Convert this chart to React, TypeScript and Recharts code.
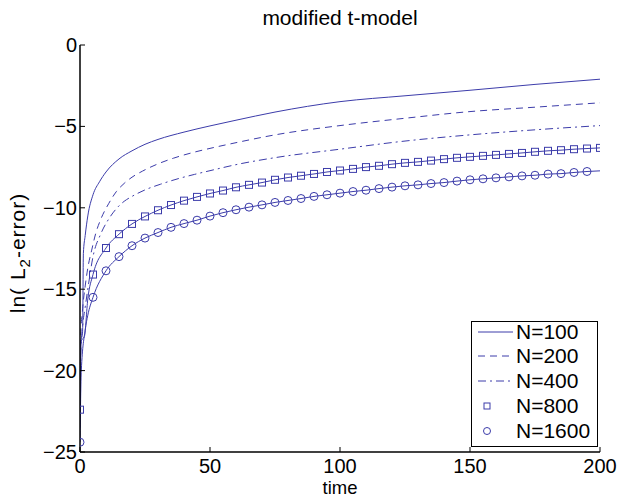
import React from "react";
import { ComposedChart, Line, XAxis, YAxis } from "recharts";

// tick labels
const xTicks = [0, 50, 100, 150, 200];
const yTicks = [0, -5, -10, -15, -20, -25];

// N=100 (solid)
const n100Time = [0, 0.3, 1, 1.3, 2, 3, 5, 7.5, 10, 15, 20, 25, 30, 40, 50, 60, 75, 100, 125, 150, 175, 200];
const n100Err = [-22, -18.3, -17.6, -12.8, -11.7, -10.5, -9.2, -8.4, -7.8, -7.0, -6.5, -6.1, -5.8, -5.35, -4.97, -4.62, -4.12, -3.48, -3.12, -2.78, -2.42, -2.1];

// N=200 (dashed)
const n200Time = [0, 0.3, 1, 2, 3, 4.5, 6, 8, 11, 14, 17, 20, 24, 30, 36, 44, 50, 60, 75, 100, 125, 150, 175, 200];
const n200Err = [-23, -17.8, -16.2, -14.8, -13.7, -12.6, -11.6, -10.7, -9.75, -9.0, -8.5, -8.12, -7.75, -7.3, -6.95, -6.58, -6.35, -6.0, -5.52, -4.95, -4.5, -4.09, -3.82, -3.55];

// N=400 (dash-dot)
const n400Time = [0, 0.3, 1, 2, 3, 5, 8, 11, 14, 17, 20, 25, 31, 38, 44, 50, 60, 75, 100, 125, 150, 175, 200];
const n400Err = [-23.5, -19, -17.3, -16.1, -15.0, -13.0, -11.6, -10.7, -10.05, -9.6, -9.3, -8.9, -8.55, -8.2, -7.95, -7.72, -7.35, -6.92, -6.4, -5.9, -5.52, -5.21, -4.95];

// N=800 (squares)
const n800Time = [0, 0.4, 1.7, 3, 5, 10, 15, 20, 25, 30, 35, 40, 45, 50, 55, 60, 65, 70, 75, 80, 85, 90, 95, 100,
  105, 110, 115, 120, 125, 130, 135, 140, 145, 150, 155, 160, 165, 170, 175, 180, 185, 190, 195, 200];
const n800Err = [-22.4, -18.2, -17.9, -15.6, -14.1, -12.47, -11.62, -10.99, -10.53, -10.15, -9.83, -9.56, -9.33, -9.12,
  -8.94, -8.74, -8.59, -8.45, -8.28, -8.14, -8.03, -7.92, -7.8, -7.71, -7.61, -7.5, -7.42, -7.32, -7.24, -7.18, -7.1,
  -7.01, -6.93, -6.87, -6.81, -6.75, -6.69, -6.63, -6.56, -6.5, -6.46, -6.4, -6.36, -6.32];

// N=1600 (circles)
const n1600Time = [0, 0.5, 2, 3, 5, 10, 15, 20, 25, 30, 35, 40, 45, 50, 55, 60, 65, 70, 75, 80, 85, 90, 95, 100,
  105, 110, 115, 120, 125, 130, 135, 140, 145, 150, 155, 160, 165, 170, 175, 180, 185, 190, 195, 200];
const n1600Err = [-24.4, -20, -17.5, -16.6, -15.5, -13.87, -13.0, -12.33, -11.86, -11.52, -11.2, -10.97, -10.76, -10.51,
  -10.3, -10.12, -9.96, -9.82, -9.67, -9.55, -9.43, -9.3, -9.2, -9.1, -9.0, -8.92, -8.82, -8.73, -8.65, -8.59, -8.51,
  -8.45, -8.36, -8.28, -8.22, -8.16, -8.1, -8.04, -8.0, -7.93, -7.9, -7.83, -7.77, -7.73];

const legendNames = ["N=100", "N=200", "N=400", "N=800", "N=1600"];

const INK = "#3c3caa";
const FONT = "'Liberation Sans', Arial, Helvetica, sans-serif";
const FS = 20;
const DASH = "7 5";
const DASHDOT = "8 4 2 4";

const toRows = (t: number[], v: number[]) => t.map((x, i) => ({ t: x, v: v[i] }));
const fmt = (n: number) => (n < 0 ? `\u2212${-n}` : `${n}`);

const BottomTick = ({ x, y, payload }: any) => (
  <g>
    <line x1={x} y1={y} x2={x} y2={y - 5} stroke="#000" />
    <text x={x} y={y + 20.5} textAnchor="middle" fontSize={FS} fontFamily={FONT} fill="#000">
      {payload.value}
    </text>
  </g>
);
const TopTick = ({ x, y }: any) => <line x1={x} y1={y} x2={x} y2={y + 5} stroke="#000" />;
const LeftTick = ({ x, y, payload }: any) => (
  <g>
    <line x1={x} y1={y} x2={x + 5} y2={y} stroke="#000" />
    <text x={x - 3} y={y + 7} textAnchor="end" fontSize={FS} fontFamily={FONT} fill="#000">
      {fmt(payload.value)}
    </text>
  </g>
);
const RightTick = ({ x, y }: any) => <line x1={x} y1={y} x2={x - 5} y2={y} stroke="#000" />;

const squareDot = (p: any) => {
  const { cx, cy, payload, index } = p;
  if (payload.t % 5 !== 0) return <g key={`s${index}`} />;
  return <rect key={`s${index}`} x={cx - 3.5} y={cy - 3.5} width={7} height={7} fill="none" stroke={INK} />;
};
const circleDot = (p: any) => {
  const { cx, cy, payload, index } = p;
  if (payload.t % 5 !== 0 || payload.t > 195) return <g key={`c${index}`} />;
  return <circle key={`c${index}`} cx={cx} cy={cy} r={4} fill="none" stroke={INK} />;
};

function LegendBox() {
  const rowY = [11, 35, 60, 85, 110];
  return (
    <svg width={127} height={126} style={{ position: "absolute", left: 471, top: 321 }}>
      <rect x={0.5} y={0.5} width={126} height={125} fill="#fff" stroke="#000" />
      {legendNames.map((name, i) => {
        const y = rowY[i];
        return (
          <g key={name}>
            {i < 3 && (
              <line x1={7} y1={y} x2={42} y2={y} stroke={INK} strokeDasharray={i === 1 ? DASH : i === 2 ? DASHDOT : undefined} />
            )}
            {i === 3 && <rect x={13} y={y - 3} width={6} height={6} fill="none" stroke={INK} />}
            {i === 4 && <circle cx={16} cy={y} r={3.5} fill="none" stroke={INK} />}
            <text x={45} y={y + 7} fontSize={FS + 1} fontFamily={FONT} fill="#000">
              {name}
            </text>
          </g>
        );
      })}
    </svg>
  );
}

export default function App() {
  return (
    <div style={{ position: "absolute", left: 0, top: 0, width: 623, height: 497, background: "#fff", fontFamily: FONT }}>
      <div style={{ position: "absolute", left: 0, width: 680, top: 6, textAlign: "center", fontSize: 21, lineHeight: "24px" }}>
        modified t-model
      </div>
      <div
        style={{
          position: "absolute",
          left: 18,
          top: 253,
          transform: "translate(-50%, -50%) rotate(-90deg)",
          whiteSpace: "nowrap",
          fontSize: 21,
          letterSpacing: "1px",
          lineHeight: "22px",
        }}
      >
        ln( L<sub style={{ fontSize: 15, verticalAlign: "-5px", lineHeight: 0 }}>2</sub>-error)
      </div>
      <svg width={623} height={27} style={{ position: "absolute", left: 0, top: 470 }}>
        <text x={340} y={23.5} textAnchor="middle" fontSize={18.5} fontFamily={FONT} fill="#000">
          time
        </text>
      </svg>
      <ComposedChart width={623} height={497} margin={{ top: 45, right: 23, bottom: 0, left: 0 }}>
        <XAxis
          dataKey="t"
          type="number"
          domain={[0, 200]}
          ticks={xTicks}
          interval={0}
          height={45}
          tickSize={0}
          tickMargin={0}
          tickLine={false}
          tick={<BottomTick />}
          axisLine={{ stroke: "#000", strokeWidth: 1.5 }}
          allowDataOverflow
        />
        <XAxis
          xAxisId="top"
          orientation="top"
          dataKey="t"
          type="number"
          domain={[0, 200]}
          ticks={xTicks}
          interval={0}
          height={0}
          tickSize={0}
          tickMargin={0}
          tickLine={false}
          tick={<TopTick />}
          axisLine={{ stroke: "#000", strokeWidth: 1.5 }}
          allowDataOverflow
        />
        <YAxis
          type="number"
          domain={[-25, 0]}
          ticks={yTicks}
          interval={0}
          width={80}
          tickSize={0}
          tickMargin={0}
          tickLine={false}
          tick={<LeftTick />}
          axisLine={{ stroke: "#000", strokeWidth: 1.5 }}
          allowDataOverflow
        />
        <YAxis
          yAxisId="right"
          orientation="right"
          type="number"
          domain={[-25, 0]}
          ticks={yTicks}
          interval={0}
          width={0}
          tickSize={0}
          tickMargin={0}
          tickLine={false}
          tick={<RightTick />}
          axisLine={{ stroke: "#000", strokeWidth: 1.5 }}
          allowDataOverflow
        />
        <Line data={toRows(n100Time, n100Err)} dataKey="v" type="monotone" stroke={INK} strokeWidth={1} dot={false} isAnimationActive={false} />
        <Line data={toRows(n200Time, n200Err)} dataKey="v" type="monotone" stroke={INK} strokeWidth={1} strokeDasharray={DASH} dot={false} isAnimationActive={false} />
        <Line data={toRows(n400Time, n400Err)} dataKey="v" type="monotone" stroke={INK} strokeWidth={1} strokeDasharray={DASHDOT} dot={false} isAnimationActive={false} />
        <Line data={toRows(n800Time, n800Err)} dataKey="v" type="monotone" stroke={INK} strokeWidth={1} dot={squareDot} isAnimationActive={false} />
        <Line data={toRows(n1600Time, n1600Err)} dataKey="v" type="monotone" stroke={INK} strokeWidth={1} dot={circleDot} isAnimationActive={false} />
      </ComposedChart>
      <LegendBox />
    </div>
  );
}
